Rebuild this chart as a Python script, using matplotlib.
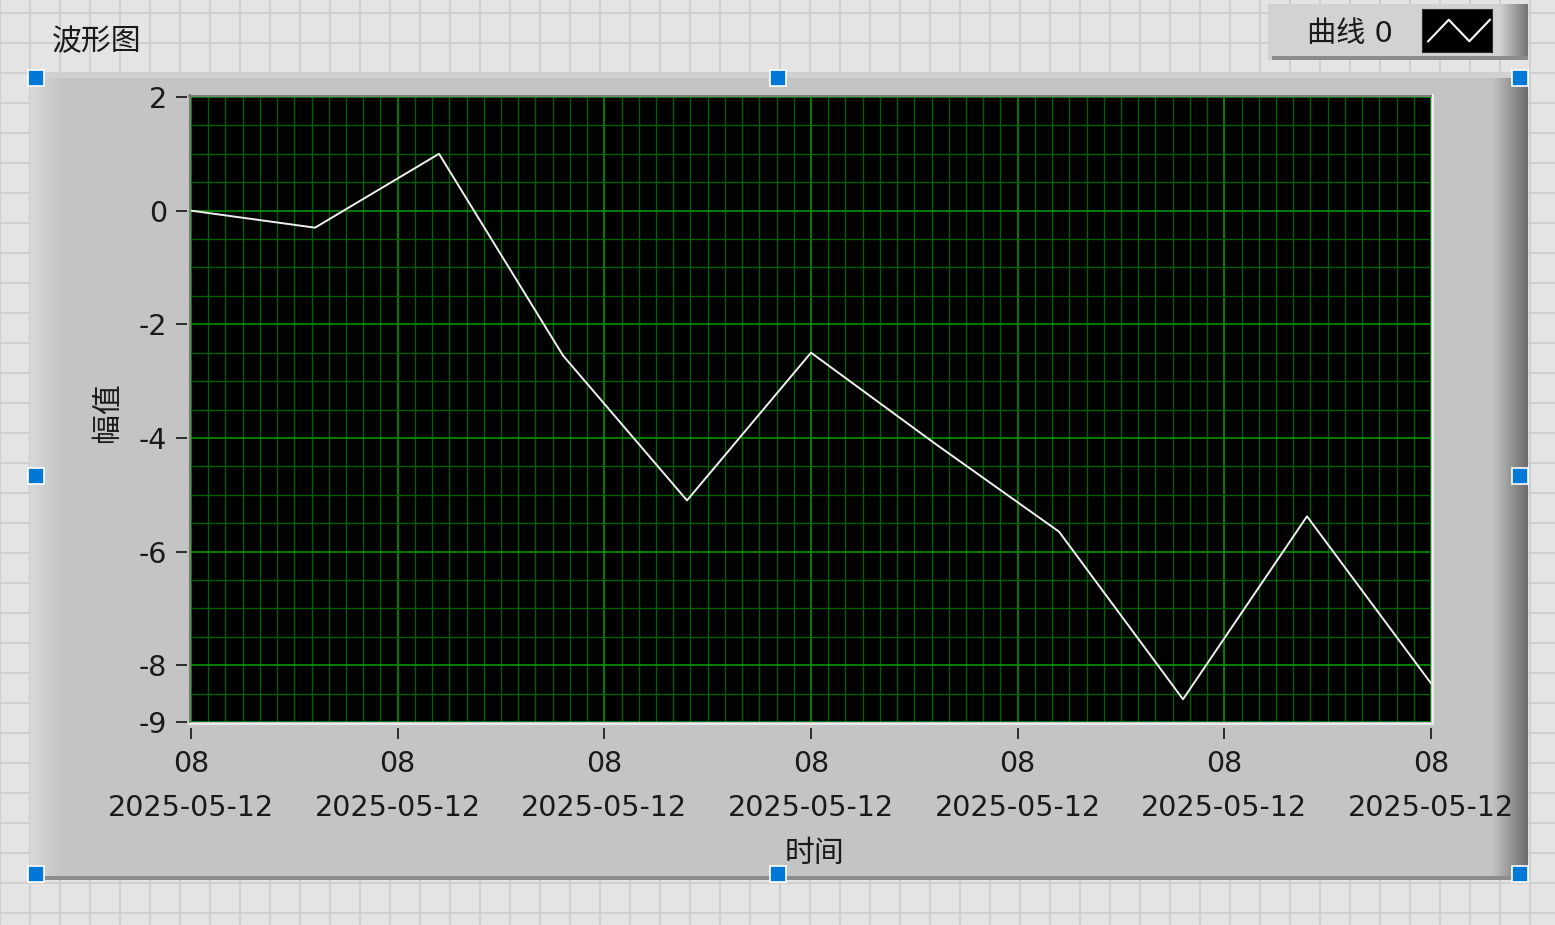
import numpy as np
import matplotlib.pyplot as plt
from matplotlib.patches import Rectangle

plt.rcParams['font.family'] = ['DejaVu Sans', 'Noto Sans CJK SC']

W, H = 1555, 925

# waveform samples (index -> amplitude)
t = np.arange(11)
amp = [0.0, -0.3, 1.0, -2.55, -5.1, -2.5, -4.1, -5.65, -8.6, -5.38, -8.32]

x_ticks = np.linspace(0, 10, 7)
x_tick_labels = ['08\n2025-05-12'] * 7
y_ticks = [2, 0, -2, -4, -6, -8, -9]
y_tick_labels = ['2', '0', '-2', '-4', '-6', '-8', '-9']

title = '波形图'
legend_name = '曲线 0'
x_name = '时间'
y_name = '幅值'


def box(l, t, r, b):
    # pixel box -> figure fraction
    return [l / W, 1 - b / H, (r - l) / W, (b - t) / H]


def grad(ax, x0, x1, y0, y1, v0, v1, horiz=True, z=2):
    g = np.linspace(v0, v1, 64)
    g = g[None, :] if horiz else g[:, None]
    ax.imshow(np.dstack([g] * 3), extent=(x0, x1, y1, y0), aspect='auto',
              interpolation='bilinear', zorder=z)


fig = plt.figure(figsize=(W / 100, H / 100), dpi=100)
fig.patch.set_facecolor('#e4e4e4')

# panel background, frame and selection handles
bg = fig.add_axes([0, 0, 1, 1])
bg.set_facecolor('#e4e4e4')
for gx in range(0, W, 30):
    bg.axvline(gx, color='#d0d0d0', lw=1.5, zorder=0)
for gy in range(13, H, 30):
    bg.axhline(gy, color='#d0d0d0', lw=1.5, zorder=0)

bg.add_patch(Rectangle((30, 74), 1498, 806, fc='#c4c4c4', ec='none', zorder=1))
grad(bg, 30, 62, 74, 880, 0.85, 0.77)
grad(bg, 1492, 1528, 74, 880, 0.77, 0.42)
bg.add_patch(Rectangle((30, 74), 1498, 4, fc='#d0d0d0', ec='none', zorder=3))
bg.add_patch(Rectangle((30, 876), 1498, 4, fc='#8c8c8c', ec='none', zorder=3))

# inset border of the plot area
bg.plot([189, 1433], [95.5, 95.5], color='#7c7c7c', lw=1.5, zorder=4)
bg.plot([189.5, 189.5], [95, 724], color='#7c7c7c', lw=1.5, zorder=4)
bg.plot([189, 1433], [723.5, 723.5], color='#ececec', lw=1.5, zorder=4)
bg.plot([1432.5, 1432.5], [95, 724], color='#ececec', lw=1.5, zorder=4)

# legend panel
bg.add_patch(Rectangle((1268, 4), 260, 56, fc='#d2d2d2', ec='none', zorder=1))
grad(bg, 1500, 1528, 4, 60, 0.82, 0.45)
bg.add_patch(Rectangle((1272, 56), 256, 4, fc='#8c8c8c', ec='none', zorder=3))
bg.text(1350, 34, legend_name, fontsize=21, color='#1a1a1a', ha='center', va='center', zorder=5)

for hx, hy in [(36, 78), (778, 78), (1520, 78), (36, 476), (1520, 476),
               (36, 874), (778, 874), (1520, 874)]:
    bg.add_patch(Rectangle((hx - 8, hy - 8), 16, 16, fc='#0078d7', ec='white', lw=1.2, zorder=6))

bg.text(52, 42, title, fontsize=21.5, color='#1a1a1a', ha='left', va='center', zorder=5)
bg.set_xlim(0, W)
bg.set_ylim(H, 0)
bg.axis('off')

# legend glyph
lg = fig.add_axes(box(1422, 9, 1492, 52))
lg.set_facecolor('black')
lg.plot([0, 1, 2, 3], [0.15, 0.85, 0.15, 0.85], color='white', lw=1.5)
lg.set_xlim(-0.3, 3.1)
lg.set_ylim(-0.2, 1.2)
lg.set_xticks([])
lg.set_yticks([])
for s in lg.spines.values():
    s.set_color('#303030')

# main plot
ax = fig.add_axes(box(191, 97, 1431, 722))
# spine moves reset the ticks, so do them first
ax.spines['left'].set_position(('outward', 3))
ax.spines['bottom'].set_position(('outward', 4))
for s in ax.spines.values():
    s.set_visible(False)

ax.set_facecolor('black')
ax.plot(t, amp, color='#f0f0f0', lw=1.4, zorder=3)
ax.set_xlim(0, 10)
ax.set_ylim(-9, 2)

ax.grid(which='minor', color='#006000', lw=1.0)
ax.grid(which='major', color='#009400', lw=1.2)
ax.tick_params(which='major', direction='out', length=8, width=1.3, color='#202020',
               labelsize=20.5, labelcolor='#1a1a1a')
ax.tick_params(axis='x', pad=8)
ax.tick_params(axis='y', pad=6)
ax.tick_params(which='minor', length=0)

ax.set_xticks(x_ticks)
ax.set_xticklabels(x_tick_labels, linespacing=1.75)
ax.set_yticks(y_ticks)
ax.set_yticklabels(y_tick_labels)
x_minor = [i * 10 / 72 for i in range(73) if i % 12 != 0]
y_minor = [v for v in np.arange(-9, 2.01, 0.5) if v not in y_ticks]
ax.set_xticks(x_minor, minor=True)
ax.set_yticks(y_minor, minor=True)

ax.set_xlabel(x_name, fontsize=21.5, color='#1a1a1a', va='center')
ax.xaxis.set_label_coords((814 - 191) / 1240, (722 - 853) / 625)
ax.set_ylabel(y_name, fontsize=21.5, color='#1a1a1a', va='center')
ax.yaxis.set_label_coords((108 - 191) / 1240, (722 - 412) / 625)

fig.savefig('out.png', dpi=100, facecolor=fig.get_facecolor())
